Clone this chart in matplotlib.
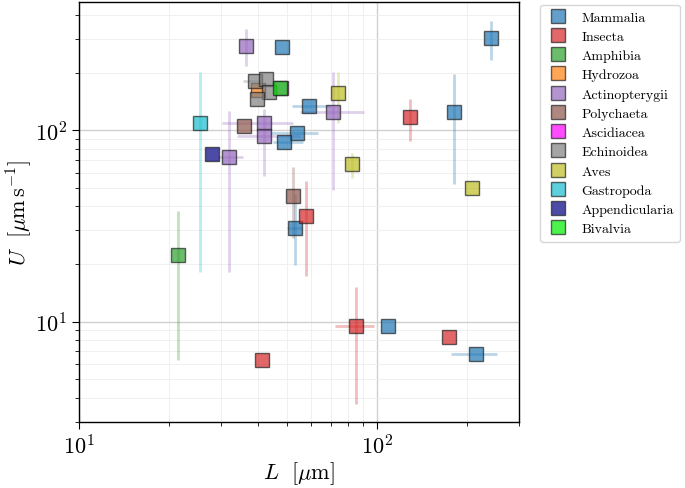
import matplotlib
matplotlib.use("Agg")
import matplotlib.pyplot as plt
import numpy as np
from matplotlib.lines import Line2D

plt.rcParams["font.family"] = "serif"
plt.rcParams["font.serif"] = ["cmr10"]
plt.rcParams["mathtext.fontset"] = "cm"
plt.rcParams["axes.unicode_minus"] = False
plt.rcParams["axes.formatter.use_mathtext"] = True

# taxon classes (legend order) and their colours
classes = ["Mammalia", "Insecta", "Amphibia", "Hydrozoa", "Actinopterygii",
           "Polychaeta", "Ascidiacea", "Echinoidea", "Aves", "Gastropoda",
           "Appendicularia", "Bivalvia"]
colors = ["#1f77b4", "#d62728", "#2ca02c", "#ff7f0e", "#9467bd", "#8c564b",
          "#ff00ff", "#7f7f7f", "#bcbd22", "#17becf", "#000080", "#00ee00"]

# one entry per organism: class, size L [um], speed U [um/s], error ranges (nan = none)
point_class = ["Mammalia"] * 9 + ["Insecta"] * 5 + ["Amphibia", "Hydrozoa"] + \
    ["Actinopterygii"] * 5 + ["Polychaeta"] * 2 + ["Ascidiacea"] + \
    ["Echinoidea"] * 4 + ["Aves"] * 3 + ["Gastropoda", "Appendicularia", "Bivalvia"]
L = [47.8, 240.3, 59.2, 54.0, 48.8, 181.4, 52.9, 108.9, 213.9,
     129.1, 57.7, 41.2, 85.2, 174.0,
     21.5, 40.0,
     36.3, 71.1, 41.6, 41.9, 31.9,
     35.9, 52.1,
     47.6,
     38.8, 42.5, 43.4, 39.7,
     73.7, 82.2, 208.9,
     25.4, 28.0, 47.1]
U = [271.5, 303.7, 133.6, 96.8, 86.8, 124.7, 30.7, 9.5, 6.77,
     117.4, 35.8, 6.30, 9.5, 8.32,
     22.2, 162.7,
     276.7, 124.7, 109.2, 93.3, 72.4,
     105.0, 45.6,
     166.0,
     180.0, 185.1, 158.8, 145.4,
     155.7, 66.4, 50.1,
     108.8, 75.5, 165.4]
nan = np.nan
L_lo = [nan, nan, 51.8, 43.8, 44.8, nan, 49.8, nan, 177.6,
        nan, nan, nan, 72.0, nan,
        nan, nan,
        nan, 55.2, 30.2, 33.9, 29.3,
        nan, nan,
        nan,
        35.6, nan, nan, nan,
        nan, nan, nan,
        nan, nan, nan]
L_hi = [nan, nan, 69.7, 63.5, 56.5, nan, 56.0, nan, 251.6,
        nan, nan, nan, 97.9, nan,
        nan, nan,
        nan, 90.6, 52.4, 55.0, 35.6,
        nan, nan,
        nan,
        41.0, nan, nan, nan,
        nan, nan, nan,
        nan, nan, nan]
U_lo = [nan, 232.8, nan, nan, nan, 52.1, 19.8, nan, nan,
        87.9, 17.4, nan, 3.73, nan,
        6.3, nan,
        217.4, 48.6, 57.6, nan, 18.2,
        nan, 27.4,
        nan,
        nan, nan, nan, nan,
        109.7, 56.5, nan,
        18.1, nan, nan]
U_hi = [nan, 374.0, nan, nan, nan, 196.6, 46.2, nan, nan,
        146.6, 54.2, nan, 15.2, nan,
        37.7, nan,
        338.6, 200.7, 128.9, nan, 126.2,
        nan, 64.0,
        nan,
        nan, nan, nan, nan,
        200.7, 76.4, nan,
        201.4, nan, nan]

fig = plt.figure(figsize=(6.85, 4.89), dpi=100)
ax = fig.add_axes([0.1153, 0.1356, 0.6428, 0.8589])

L = np.array(L)
U = np.array(U)
xlo = np.nan_to_num(L - np.array(L_lo), nan=0.0)
xhi = np.nan_to_num(np.array(L_hi) - L, nan=0.0)
ylo = np.nan_to_num(U - np.array(U_lo), nan=0.0)
yhi = np.nan_to_num(np.array(U_hi) - U, nan=0.0)
pc = np.array(point_class)

handles = []
for name, col in zip(classes, colors):
    m = pc == name
    ax.errorbar(L[m], U[m], xerr=[xlo[m], xhi[m]], yerr=[ylo[m], yhi[m]],
                fmt="none", ecolor=col, alpha=0.3, elinewidth=2, capsize=0, zorder=2)
    ax.plot(L[m], U[m], "s", ms=9.5, mfc=col, mec="#222222", mew=1.0, alpha=0.7,
            linestyle="none", zorder=3)
    handles.append(Line2D([], [], marker="s", ms=9.5, mfc=col, mec="#222222", mew=1.0,
                          alpha=0.7, linestyle="none", label=name))

ax.set_xscale("log")
ax.set_yscale("log")
ax.set_xlim(10, 300)
ax.set_ylim(3, 470)
ax.grid(True, which="major", color="#d0d0d0", linewidth=1.0)
ax.grid(True, which="minor", color="#eeeeee", linewidth=0.6)
ax.set_axisbelow(True)
ax.tick_params(which="both", direction="out", labelsize=16)
ax.tick_params(which="major", length=5)
ax.tick_params(which="minor", length=3)
for s in ax.spines.values():
    s.set_color("black")
    s.set_linewidth(1.0)

ax.set_xlabel(r"$L\ \ [\mu\mathrm{m}]$", fontsize=16, labelpad=1)
ax.set_ylabel(r"$U\ \ [\mu\mathrm{m\,s}^{-1}]$", fontsize=16, labelpad=1)

ax.legend(handles=handles, loc="upper left", bbox_to_anchor=(1.048, 0.993),
          borderaxespad=0, fontsize=10, handlelength=1.6, handletextpad=0.9,
          labelspacing=0.47, borderpad=0.45,
          frameon=True, fancybox=True, edgecolor="#cccccc")

fig.savefig("out.png", dpi=100)
